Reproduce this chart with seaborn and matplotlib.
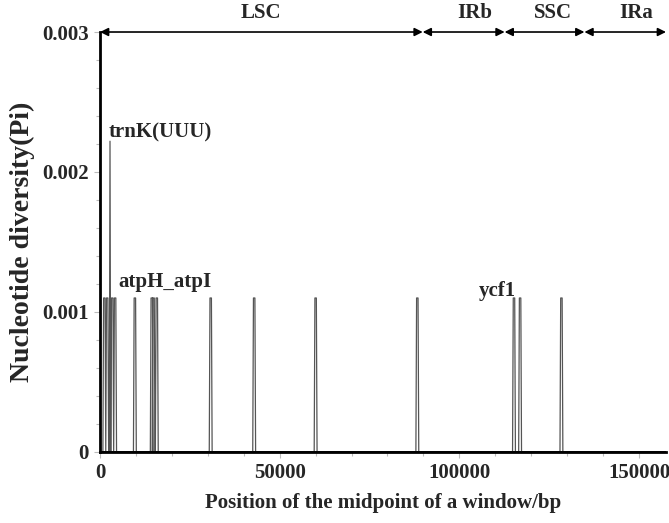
import numpy as np
import pandas as pd
import matplotlib
matplotlib.use('Agg')
import matplotlib.pyplot as plt
import seaborn as sns
from matplotlib.ticker import MultipleLocator

# Peaks (window midpoint in bp, Pi value)
peak_pos = [1200, 2000, 2780, 3400, 4200, 9700, 14400, 14900, 15800,
            30800, 42900, 60000, 88300, 115200, 116900, 128400]
peak_pi = [0.0011, 0.0011, 0.00222, 0.0011, 0.0011, 0.0011, 0.0011, 0.0011, 0.0011,
           0.0011, 0.0011, 0.0011, 0.0011, 0.0011, 0.0011, 0.0011]
genome_len = 157500

# regions along the top
regions = ['LSC', 'IRb', 'SSC', 'IRa']
region_bounds = [0, 89800, 112600, 134800, 157500]
region_label_x = [44800, 104400, 126000, 149200]

# gene annotations
genes = ['trnK(UUU)', 'atpH_atpI', 'ycf1']
gene_x = [2300, 5000, 105300]
gene_y = [0.00221, 0.00114, 0.00108]

# build the sliding-window line (window step 200 bp)
step = 200
xs = [0]
ys = [0]
for p, v in zip(peak_pos, peak_pi):
    if v > 0.002:
        xs += [p - step, p, p + step]
        ys += [0, v, 0]
    else:
        xs += [p - 2 * step, p - step, p + step, p + 2 * step]
        ys += [0, v, v, 0]
xs.append(genome_len)
ys.append(0)
df = pd.DataFrame({'pos': xs, 'pi': ys})

sns.set_style('ticks')
plt.rcParams['font.family'] = ['Liberation Serif', 'DejaVu Serif']
plt.rcParams['font.weight'] = 'bold'

fig = plt.figure(figsize=(6.69, 5.23), dpi=100)
ax = fig.add_axes([0.1495, 0.1358, 0.846, 0.803])

sns.lineplot(data=df, x='pos', y='pi', ax=ax, color='#555555', linewidth=0.9,
             estimator=None, sort=False)
ax.axhline(0, color='black', lw=2, zorder=3)

ax.set_xlim(0, genome_len)
ax.set_ylim(0, 0.003)
ax.xaxis.set_minor_locator(MultipleLocator(10000))
ax.yaxis.set_minor_locator(MultipleLocator(0.0002))
ax.set_yticks([0, 0.001, 0.002, 0.003])
ax.set_yticklabels(['0', '0.001', '0.002', '0.003'])
ax.set_xticks([0, 50000, 100000, 150000])
ax.set_xticklabels(['0', '50000', '100000', '150000'])
ax.tick_params(which='both', direction='out', color='#bbbbbb', width=0.8)
ax.tick_params(which='major', length=4, labelsize=15, pad=4)
ax.tick_params(which='minor', length=3)
for lab in ax.get_xticklabels() + ax.get_yticklabels():
    lab.set_fontweight('bold')

sns.despine(ax=ax)
for s in ['left', 'bottom']:
    ax.spines[s].set_linewidth(2)
    ax.spines[s].set_color('black')

ax.set_xlabel('Position of the midpoint of a window/bp', fontsize=15,
              fontweight='bold', labelpad=7)
ax.set_ylabel('Nucleotide diversity(Pi)', fontsize=20, fontweight='bold', labelpad=5)

# region arrows along the top
for i in range(len(regions)):
    ax.annotate('', xy=(region_bounds[i], 0.003), xytext=(region_bounds[i + 1], 0.003),
                arrowprops=dict(arrowstyle='<|-|>', color='black', lw=1.2,
                                shrinkA=0, shrinkB=0, mutation_scale=12),
                annotation_clip=False)
    ax.text(region_label_x[i], 1.045, regions[i], transform=ax.get_xaxis_transform(),
            ha='center', va='center', fontsize=15, fontweight='bold')

for g, gx, gy in zip(genes, gene_x, gene_y):
    ax.text(gx, gy, g, ha='left', va='bottom', fontsize=15, fontweight='bold')

fig.savefig('out.png', dpi=100)
